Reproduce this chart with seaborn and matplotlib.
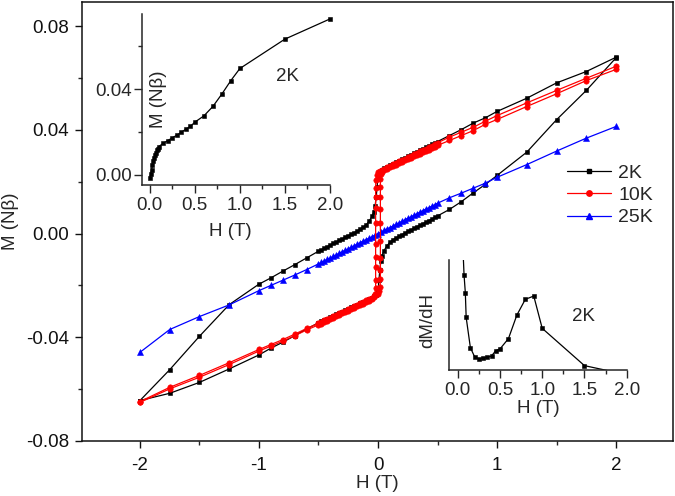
import matplotlib
matplotlib.use("Agg")
import matplotlib.pyplot as plt
from matplotlib.lines import Line2D
from matplotlib.ticker import FixedLocator
import pandas as pd
import seaborn as sns

sns.set_style("ticks")
plt.rcParams['font.family'] = ['Liberation Sans', 'DejaVu Sans']
plt.rcParams['axes.unicode_minus'] = False

# ---------------- shared field grids (T) ----------------
H_NEG_OUT = [-2.0, -1.75, -1.5, -1.25, -1.0, -0.9, -0.8, -0.7, -0.6]
H_NEG_IN = [-0.5, -0.475, -0.45, -0.425, -0.4, -0.375, -0.35, -0.325, -0.3, -0.275,
            -0.25, -0.225, -0.2, -0.175, -0.15, -0.125, -0.1, -0.075, -0.05]
H_POS_IN = [0.05, 0.075, 0.1, 0.125, 0.15, 0.175, 0.2, 0.225, 0.25, 0.275,
            0.3, 0.325, 0.35, 0.375, 0.4, 0.425, 0.45, 0.475, 0.5]
H_POS_OUT = [0.6, 0.7, 0.8, 0.9, 1.0, 1.25, 1.5, 1.75, 2.0]

# ---------------- 2K, branch A (middle-left -> upper-right) ----------------
m2A_neg_out = [-0.0644, -0.0525, -0.0396, -0.0274, -0.0195, -0.0171, -0.0145, -0.0120, -0.0094]
m2A_neg_in = [-0.0068, -0.0062, -0.0056, -0.0050, -0.0044, -0.0038, -0.0032, -0.0026, -0.0020, -0.0014,
              -0.0008, -0.0002, 0.0004, 0.0010, 0.0017, 0.0024, 0.0033, 0.0048, 0.0066]
h2A_zero = [-0.035, -0.025, -0.015, -0.008, 0.0, 0.015, 0.03]
m2A_zero = [0.0085, 0.0105, 0.0140, 0.0180, 0.0215, 0.0238, 0.0245]
m2A_pos_in = [0.0251, 0.0257, 0.0263, 0.0269, 0.0275, 0.0281, 0.0286, 0.0292, 0.0298, 0.0303,
              0.0309, 0.0315, 0.0321, 0.0326, 0.0332, 0.0338, 0.0344, 0.0349, 0.0355]
m2A_pos_out = [0.0378, 0.0401, 0.0426, 0.0446, 0.0471, 0.0522, 0.0581, 0.0625, 0.0680]

# ---------------- 2K, branch B (lower-left -> middle-right) ----------------
m2B_neg_out = [-0.0644, -0.0616, -0.0574, -0.0522, -0.0468, -0.0442, -0.0419, -0.0394, -0.0368]
m2B_neg_in = [-0.0344, -0.0339, -0.0333, -0.0328, -0.0323, -0.0317, -0.0312, -0.0307, -0.0301, -0.0296,
              -0.0291, -0.0285, -0.0280, -0.0275, -0.0269, -0.0264, -0.0259, -0.0253, -0.0248]
h2B_zero = [-0.03, -0.015, 0.0, 0.008, 0.015, 0.025, 0.035]
m2B_zero = [-0.0242, -0.0235, -0.0220, -0.0180, -0.0140, -0.0105, -0.0085]
m2B_pos_in = [-0.0066, -0.0048, -0.0033, -0.0024, -0.0017, -0.0010, -0.0004, 0.0002, 0.0008, 0.0014,
              0.0020, 0.0026, 0.0032, 0.0038, 0.0044, 0.0050, 0.0056, 0.0062, 0.0068]
m2B_pos_out = [0.0093, 0.0123, 0.0157, 0.0189, 0.0224, 0.0314, 0.0439, 0.0552, 0.0678]

# ---------------- 10K, branch A (down sweep) ----------------
m10A_neg_out = [-0.0651, -0.0599, -0.0554, -0.0505, -0.0453, -0.0434, -0.0415, -0.0394, -0.0372]
m10A_neg_in = [-0.0352, -0.0347, -0.0341, -0.0336, -0.0330, -0.0325, -0.0319, -0.0314, -0.0308, -0.0303,
               -0.0297, -0.0292, -0.0286, -0.0281, -0.0275, -0.0270, -0.0264, -0.0259, -0.0253]
h10A_zero = [-0.035, -0.025, -0.02, -0.02, -0.02, -0.02, -0.02, -0.02, -0.02, -0.02, -0.02,
             -0.018, -0.01, 0.0, 0.015, 0.03]
m10A_zero = [-0.0245, -0.0232, -0.0210, -0.0180, -0.0130, -0.0090, -0.0040, 0.0040, 0.0100, 0.0140, 0.0175,
             0.0205, 0.0225, 0.0236, 0.0242, 0.0246]
m10A_pos_in = [0.0250, 0.0256, 0.0261, 0.0267, 0.0272, 0.0278, 0.0283, 0.0289, 0.0294, 0.0300,
               0.0306, 0.0311, 0.0317, 0.0322, 0.0328, 0.0333, 0.0339, 0.0344, 0.0350]
m10A_pos_out = [0.0372, 0.0391, 0.0410, 0.0433, 0.0455, 0.0504, 0.0552, 0.0599, 0.0645]

# ---------------- 10K, branch B (up sweep) ----------------
m10B_neg_out = [-0.0648, -0.0593, -0.0547, -0.0498, -0.0447, -0.0428, -0.0409, -0.0388, -0.0366]
m10B_neg_in = [-0.0346, -0.0341, -0.0335, -0.0330, -0.0324, -0.0319, -0.0313, -0.0308, -0.0302, -0.0297,
               -0.0291, -0.0286, -0.0280, -0.0275, -0.0269, -0.0264, -0.0258, -0.0253, -0.0247]
h10B_zero = [-0.03, -0.015, 0.0, 0.01, 0.018, 0.02, 0.02, 0.02, 0.02, 0.02, 0.02, 0.02, 0.02, 0.02,
             0.025, 0.035]
m10B_zero = [-0.0242, -0.0238, -0.0232, -0.0222, -0.0205, -0.0175, -0.0140, -0.0095, -0.0030, 0.0040,
             0.0095, 0.0140, 0.0180, 0.0210, 0.0228, 0.0238]
m10B_pos_in = [0.0244, 0.0250, 0.0255, 0.0260, 0.0266, 0.0271, 0.0276, 0.0282, 0.0287, 0.0292,
               0.0298, 0.0303, 0.0308, 0.0314, 0.0319, 0.0324, 0.0330, 0.0335, 0.0340]
m10B_pos_out = [0.0359, 0.0378, 0.0397, 0.0421, 0.0440, 0.0490, 0.0539, 0.0590, 0.0633]

# ---------------- 25K ----------------
m25_neg_out = [-0.0458, -0.0370, -0.0320, -0.0275, -0.0220, -0.0200, -0.0180, -0.0160, -0.0139]
m25_neg_in = [-0.0117, -0.0111, -0.0105, -0.0099, -0.0094, -0.0088, -0.0082, -0.0076, -0.0070, -0.0064,
              -0.0059, -0.0053, -0.0047, -0.0041, -0.0035, -0.0029, -0.0023, -0.0018, -0.0012]
h25_zero = [-0.025, 0.0, 0.025]
m25_zero = [-0.0006, 0.0, 0.0006]
m25_pos_in = [0.0012, 0.0018, 0.0023, 0.0029, 0.0035, 0.0041, 0.0047, 0.0053, 0.0059, 0.0064,
              0.0070, 0.0076, 0.0082, 0.0088, 0.0094, 0.0099, 0.0105, 0.0111, 0.0117]
m25_pos_out = [0.0138, 0.0156, 0.0175, 0.0194, 0.0217, 0.0266, 0.0318, 0.0368, 0.0413]

# ---------------- inset 1: M(H) at 2K ----------------
inset_H = [0.0, 0.01, 0.02, 0.03, 0.04, 0.05, 0.06, 0.07, 0.08, 0.09, 0.1, 0.15, 0.2, 0.25,
           0.3, 0.35, 0.4, 0.45, 0.5, 0.6, 0.7, 0.8, 0.9, 1.0, 1.5, 2.0]
inset_M = [-0.0015, 0.0005, 0.0025, 0.0045, 0.0063, 0.0078, 0.0092, 0.0104, 0.0114, 0.0123,
           0.0132, 0.0148, 0.0160, 0.0173, 0.0185, 0.0199, 0.0213, 0.0226, 0.0246, 0.0275,
           0.0319, 0.0377, 0.0440, 0.0496, 0.0633, 0.0727]

# ---------------- inset 2: dM/dH at 2K ----------------
deriv_H = [0.05, 0.075, 0.09, 0.1, 0.15, 0.2, 0.25, 0.3, 0.35, 0.4, 0.45, 0.5, 0.6, 0.7, 0.8,
           0.9, 1.0, 1.5, 2.0]
deriv_V = [0.110, 0.0779, 0.0666, 0.0507, 0.0313, 0.0255, 0.0240, 0.0247, 0.0251, 0.0260, 0.0294,
           0.0305, 0.0371, 0.0522, 0.0623, 0.0644, 0.0437, 0.0198, 0.0140]

series_labels = ['2K', '10K', '25K']
series_colors = ['#000000', '#ff0000', '#0000ff']
series_markers = ['s', 'o', '^']

FS = 13.5


def branch(h_zero, neg_out, neg_in, m_zero, pos_in, pos_out):
    H = H_NEG_OUT + H_NEG_IN + h_zero + H_POS_IN + H_POS_OUT
    M = neg_out + neg_in + m_zero + pos_in + pos_out
    return pd.DataFrame({'H': H, 'M': M})


def draw(ax, df, color, marker, ms, lw=0.9, clip=True):
    sns.lineplot(data=df, x='H', y='M', ax=ax, sort=False, estimator=None,
                 color=color, marker=marker, markersize=ms, markeredgecolor=color,
                 markeredgewidth=0.4, linewidth=lw, legend=False, clip_on=clip)


fig = plt.figure(figsize=(6.75, 4.96), dpi=100)
ax = fig.add_axes([0.1215, 0.1109, 0.8756, 0.885])

b2A = branch(h2A_zero, m2A_neg_out, m2A_neg_in, m2A_zero, m2A_pos_in, m2A_pos_out)
b2B = branch(h2B_zero, m2B_neg_out, m2B_neg_in, m2B_zero, m2B_pos_in, m2B_pos_out)
b10A = branch(h10A_zero, m10A_neg_out, m10A_neg_in, m10A_zero, m10A_pos_in, m10A_pos_out)
b10B = branch(h10B_zero, m10B_neg_out, m10B_neg_in, m10B_zero, m10B_pos_in, m10B_pos_out)
b25 = branch(h25_zero, m25_neg_out, m25_neg_in, m25_zero, m25_pos_in, m25_pos_out)

draw(ax, b2A, series_colors[0], series_markers[0], 3.4)
draw(ax, b2B, series_colors[0], series_markers[0], 3.4)
draw(ax, b25, series_colors[2], series_markers[2], 3.9)
draw(ax, b10A, series_colors[1], series_markers[1], 3.9)
draw(ax, b10B, series_colors[1], series_markers[1], 3.9)

ax.set_xlim(-2.487, 2.479)
ax.set_ylim(-0.08, 0.0893)
ax.set_xticks([-2, -1, 0, 1, 2])
ax.set_xticklabels(['-2', '-1', '0', '1', '2'])
ax.xaxis.set_minor_locator(FixedLocator([-1.5, -0.5, 0.5, 1.5]))
ax.set_yticks([-0.08, -0.04, 0.0, 0.04, 0.08])
ax.set_yticklabels(['-0.08', '-0.04', '0.00', '0.04', '0.08'])
ax.yaxis.set_minor_locator(FixedLocator([-0.06, -0.02, 0.02, 0.06]))
ax.tick_params(which='major', direction='out', length=5, width=1.0, labelsize=FS, colors='#111111')
ax.tick_params(axis='x', which='major', pad=6.5)
ax.tick_params(axis='y', which='major', pad=4.5)
ax.tick_params(which='minor', direction='out', length=3, width=1.0)
for s in ax.spines.values():
    s.set_linewidth(1.1)
    s.set_color('#111111')
ax.set_xlabel('H (T)', fontsize=FS, labelpad=1)
ax.set_ylabel('M (Nβ)', fontsize=FS, labelpad=5)

handles = [Line2D([], [], color=c, marker=m, markersize=ms, markeredgecolor=c, linewidth=0.9, label=l)
           for c, m, ms, l in zip(series_colors, series_markers, [3.4, 3.9, 3.9], series_labels)]
ax.legend(handles=handles, loc='center left', bbox_to_anchor=(0.82, 0.56), frameon=False,
          fontsize=14, handlelength=2.3, handletextpad=0.35, labelspacing=0.25,
          borderpad=0, borderaxespad=0)

# ---------------- inset 1 ----------------
ax1 = fig.add_axes([0.2099, 0.627, 0.279, 0.3448])
ax1.patch.set_alpha(0)
draw(ax1, pd.DataFrame({'H': inset_H, 'M': inset_M}), '#000000', 's', 3.4, clip=False)
ax1.set_xlim(-0.09, 2.0)
ax1.set_ylim(-0.0047, 0.075)
ax1.spines['top'].set_visible(False)
ax1.spines['right'].set_visible(False)
ax1.set_xticks([0, 0.5, 1.0, 1.5, 2.0])
ax1.set_xticklabels(['0.0', '0.5', '1.0', '1.5', '2.0'])
ax1.xaxis.set_minor_locator(FixedLocator([0.25, 0.75, 1.25, 1.75]))
ax1.set_yticks([0.0, 0.04])
ax1.set_yticklabels(['0.00', '0.04'])
ax1.yaxis.set_minor_locator(FixedLocator([0.02, 0.06]))
ax1.tick_params(which='major', direction='out', length=5.5, width=1.0, labelsize=FS)
ax1.tick_params(axis='y', which='major', pad=1.5)
ax1.tick_params(axis='x', which='major', pad=3)
ax1.tick_params(which='minor', direction='out', length=3, width=1.0)
for s in ['left', 'bottom']:
    ax1.spines[s].set_linewidth(1.1)
ax1.set_xlabel('H (T)', fontsize=FS)
ax1.xaxis.set_label_coords(0.47, -0.22)
ax1.xaxis.label.set_va('top')
ax1.set_ylabel('')
ax1.text(0.089, 0.50, 'M (Nβ)', transform=ax1.transAxes, rotation=90, fontsize=FS,
         ha='center', va='center')
ax1.text(0.772, 0.632, '2K', transform=ax1.transAxes, fontsize=FS, ha='center', va='center')

# ---------------- inset 2 ----------------
ax2 = fig.add_axes([0.6652, 0.254, 0.2633, 0.2218])
ax2.patch.set_alpha(0)
draw(ax2, pd.DataFrame({'H': deriv_H, 'M': deriv_V}), '#000000', 's', 3.4)
ax2.set_xlim(-0.103, 2.0)
ax2.set_ylim(0.017, 0.0875)
ax2.spines['top'].set_visible(False)
ax2.spines['right'].set_visible(False)
ax2.set_xticks([0, 0.5, 1.0, 1.5, 2.0])
ax2.set_xticklabels(['0.0', '0.5', '1.0', '1.5', '2.0'])
ax2.xaxis.set_minor_locator(FixedLocator([0.25, 0.75, 1.25, 1.75]))
ax2.set_yticks([])
ax2.tick_params(which='major', direction='out', length=5.5, width=1.0, labelsize=FS, pad=3)
ax2.tick_params(which='minor', direction='out', length=3, width=1.0)
for s in ['left', 'bottom']:
    ax2.spines[s].set_linewidth(1.1)
ax2.set_xlabel('H (T)', fontsize=FS, labelpad=1)
ax2.set_ylabel('dM/dH', fontsize=FS)
ax2.yaxis.set_label_coords(-0.07, 0.45)
ax2.text(0.754, 0.49, '2K', transform=ax2.transAxes, fontsize=FS, ha='center', va='center')

fig.savefig('out.png', dpi=100)
